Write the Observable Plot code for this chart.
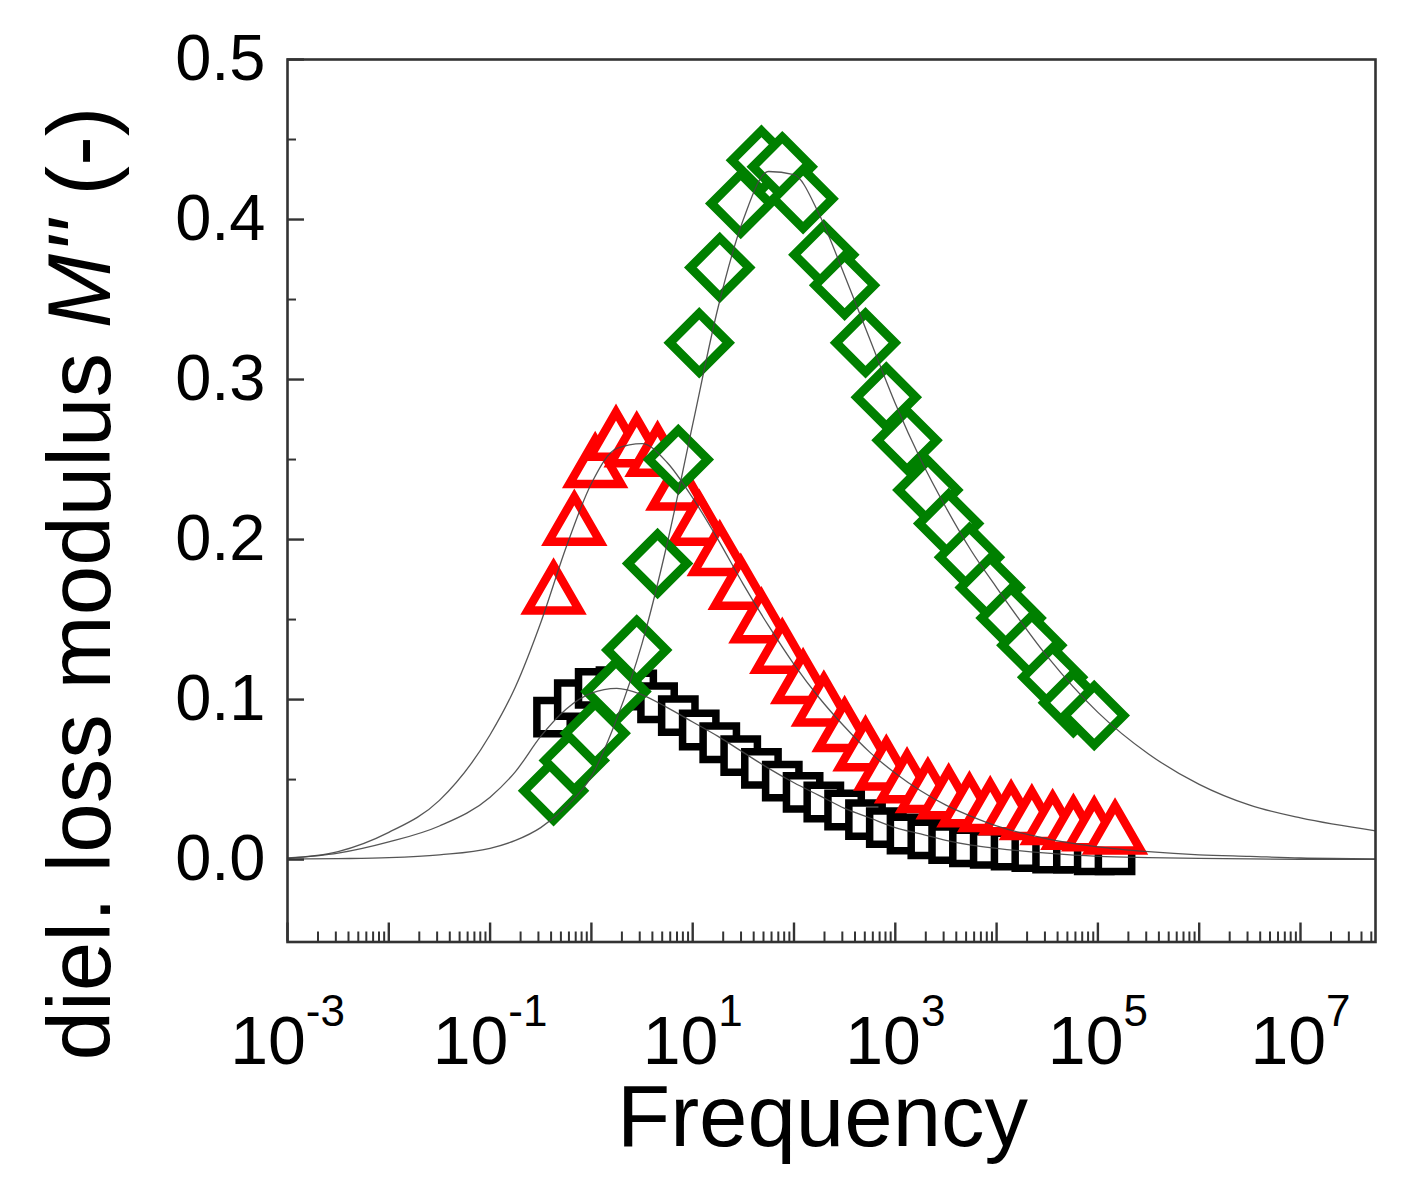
<!DOCTYPE html>
<html><head><meta charset="utf-8">
<script src="https://cdn.jsdelivr.net/npm/d3@7"></script>
<script src="https://cdn.jsdelivr.net/npm/@observablehq/plot@0.6"></script>
<style>html,body{margin:0;padding:0;background:#fff;} #chart svg{display:block;}</style>
</head><body><div id="chart"></div>
<script>
// ---- data ----
const freq = [0.423, 0.678, 1.09, 1.75, 2.80, 4.50, 7.21, 11.6, 18.5, 29.8, 47.7, 76.6, 123, 197, 316, 508, 815, 1306, 2096, 3365, 5395, 8650, 13900, 22280, 35730, 57300, 92000, 147600];
const blackM = [0.089, 0.100, 0.107, 0.108, 0.106, 0.098, 0.090, 0.081, 0.073, 0.065, 0.057, 0.049, 0.042, 0.036, 0.031, 0.025, 0.020, 0.016, 0.013, 0.010, 0.008, 0.007, 0.006, 0.005, 0.004, 0.004, 0.003, 0.003];
const redM = [0.165, 0.208, 0.244, 0.261, 0.257, 0.251, 0.230, 0.208, 0.189, 0.168, 0.147, 0.128, 0.109, 0.095, 0.079, 0.067, 0.055, 0.047, 0.041, 0.037, 0.032, 0.029, 0.027, 0.024, 0.021, 0.018, 0.017, 0.015];
const greenM = [0.043, 0.062, 0.079, 0.105, 0.131, 0.185, 0.250, 0.323, 0.370, 0.410, 0.437, 0.433, 0.413, 0.378, 0.359, 0.323, 0.289, 0.262, 0.231, 0.210, 0.189, 0.170, 0.151, 0.134, 0.114, 0.098, 0.090];

const fitFreq = [0.001, 0.00316, 0.01, 0.0316, 0.1, 0.178, 0.316, 0.562, 1, 1.78, 3.16, 5.62, 10, 17.8, 31.6, 56.2, 100, 178, 316, 562, 1000, 1780, 3160, 5620, 10000, 31600, 100000, 316000, 1e6, 3.16e6, 1e7, 5.5e7];
const fitBlack = [0.0008, 0.004, 0.011, 0.021, 0.039, 0.055, 0.077, 0.094, 0.104, 0.107, 0.103, 0.095, 0.086, 0.077, 0.067, 0.057, 0.048, 0.040, 0.032, 0.026, 0.020, 0.016, 0.012, 0.009, 0.007, 0.004, 0.002, 0.0012, 0.0007, 0.0004, 0.0002, 0.0001];
const fitRed = [0.001, 0.005, 0.017, 0.037, 0.078, 0.108, 0.148, 0.195, 0.235, 0.257, 0.260, 0.248, 0.226, 0.200, 0.172, 0.146, 0.122, 0.101, 0.083, 0.067, 0.054, 0.043, 0.034, 0.027, 0.021, 0.013, 0.008, 0.005, 0.003, 0.002, 0.001, 0.0005];
const fitGreen = [0.0003, 0.0006, 0.0012, 0.003, 0.007, 0.012, 0.020, 0.033, 0.052, 0.088, 0.135, 0.198, 0.272, 0.345, 0.400, 0.430, 0.428, 0.403, 0.365, 0.325, 0.285, 0.250, 0.220, 0.193, 0.170, 0.127, 0.092, 0.066, 0.047, 0.034, 0.026, 0.018];

const yTickValues = [0, 0.1, 0.2, 0.3, 0.4, 0.5];
const yTickLabels = ["0.0", "0.1", "0.2", "0.3", "0.4", "0.5"];
const yMinorValues = [0.05, 0.15, 0.25, 0.35, 0.45];
const xLabelValues = [1e-3, 1e-1, 1e1, 1e3, 1e5, 1e7];
const xLabelExponents = ["-3", "-1", "1", "3", "5", "7"];
const xTitle = "Frequency";
const yTitle = ["diel. loss modulus ", "M''", " (-)"];

// ---- layout ----
const W = 1405, H = 1192;
const mL = 287, mR = 30, mT = 59, mB = 250.5;
const frameW = W - mL - mR, frameH = H - mT - mB;
const xDomain = [1e-3, 5.5e7];

const xMajor = d3.range(-3, 8).map(e => Math.pow(10, e));
const xMinor = [];
for (let e = -3; e <= 7; e++) for (let k = 2; k <= 9; k++) { const v = k * Math.pow(10, e); if (v <= xDomain[1]) xMinor.push(v); }

const black = blackM.map((m, i) => ({f: freq[i], m}));
const red = redM.map((m, i) => ({f: freq[i], m}));
const green = greenM.map((m, i) => ({f: freq[i], m}));
const fb = fitBlack.map((m, i) => ({f: fitFreq[i], m}));
const fr = fitRed.map((m, i) => ({f: fitFreq[i], m}));
const fg = fitGreen.map((m, i) => ({f: fitFreq[i], m}));

const axisColor = "#333";
const xLabelText = xLabelExponents.map(e => "10" + e);
const yTitleText = yTitle.join("");

const plot = Plot.plot({
  width: W, height: H,
  marginLeft: mL, marginRight: mR, marginTop: mT, marginBottom: mB,
  x: {type: "log", domain: xDomain, axis: null},
  y: {domain: [-0.0515, 0.5], axis: null},
  style: {fontFamily: "'Liberation Sans', Arial, Helvetica, sans-serif", background: "#fff", color: "#000"},
  marks: [
    Plot.dot(black, {x: "f", y: "m", symbol: "square", r: 18.8, stroke: "#000", strokeWidth: 7.5, fill: "#fff"}),
    Plot.dot(red, {x: "f", y: "m", symbol: "triangle", r: 19.2, stroke: "#ff0000", strokeWidth: 8.5, fill: "#fff"}),
    Plot.dot(green, {x: "f", y: "m", symbol: "diamond2", r: 26.5, stroke: "#008000", strokeWidth: 9, fill: "#fff"}),
    Plot.line(fb, {x: "f", y: "m", curve: "monotone-x", stroke: "#444", strokeWidth: 1.3, strokeOpacity: 0.9}),
    Plot.line(fr, {x: "f", y: "m", curve: "monotone-x", stroke: "#444", strokeWidth: 1.3, strokeOpacity: 0.9}),
    Plot.line(fg, {x: "f", y: "m", curve: "monotone-x", stroke: "#444", strokeWidth: 1.3, strokeOpacity: 0.9}),
    Plot.frame({stroke: axisColor, strokeWidth: 2.6}),
    Plot.tickX(xMajor, {x: d => d, insetTop: frameH - 19, stroke: axisColor, strokeWidth: 2.4}),
    Plot.tickX(xMinor, {x: d => d, insetTop: frameH - 10, stroke: axisColor, strokeWidth: 2}),
    Plot.tickY(yTickValues, {y: d => d, insetRight: frameW - 17, stroke: axisColor, strokeWidth: 2.4}),
    Plot.tickY(yMinorValues, {y: d => d, insetRight: frameW - 9, stroke: axisColor, strokeWidth: 2}),
    Plot.text(yTickValues, {y: d => d, text: (d, i) => yTickLabels[i], frameAnchor: "left", textAnchor: "end", lineAnchor: "middle", dx: -22, fontSize: 65, fill: "#000"}),
    Plot.text(xLabelValues, {x: d => d, text: (d, i) => xLabelText[i], frameAnchor: "bottom", textAnchor: "middle", lineAnchor: "middle", dy: 100.5, fontSize: 68, fill: "#000"}),
    Plot.text([xTitle], {text: d => d, frameAnchor: "bottom", textAnchor: "middle", lineAnchor: "middle", dx: -9, dy: 176.5, fontSize: 87, fill: "#000"}),
    Plot.text([yTitleText], {text: d => d, frameAnchor: "left", textAnchor: "middle", lineAnchor: "middle", rotate: -90, dx: -205.5, dy: 82.75, fontSize: 89, fill: "#000"})
  ]
});
document.getElementById("chart").appendChild(plot);

const svg = d3.select(plot);
svg.selectAll("text").each(function() {
  const t = d3.select(this);
  const s = this.textContent;
  const xi = xLabelText.indexOf(s);
  if (xi >= 0) {
    t.text(null);
    t.append("tspan").text("10");
    t.append("tspan").attr("dy", -38).attr("font-size", 44).text(xLabelExponents[xi]);
  } else if (s === yTitleText) {
    t.text(null);
    t.append("tspan").text(yTitle[0]);
    t.append("tspan").attr("font-style", "italic").text(yTitle[1]);
    t.append("tspan").text(yTitle[2]);
  }
});
</script>
</body></html>
